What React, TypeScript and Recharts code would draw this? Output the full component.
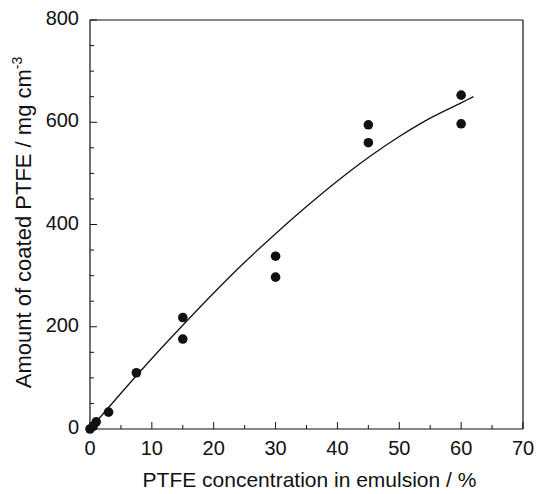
import React from 'react';
import { ComposedChart, Line, Scatter, XAxis, YAxis, Label } from 'recharts';

// measured points
const pointX = [0, 0.5, 1, 3, 7.5, 15, 15, 30, 30, 45, 45, 60, 60];
const pointY = [0, 5, 14, 33, 110, 218, 176, 338, 297, 595, 560, 653, 597];

// fitted curve
const curveX = [0, 5, 10, 15, 20, 25, 30, 35, 40, 45, 50, 55, 60, 62];
const curveY = [0, 70, 138, 203, 266, 326, 382, 435, 485, 531, 572, 608, 638, 650];

const xTicks = [0, 5, 10, 15, 20, 25, 30, 35, 40, 45, 50, 55, 60, 65, 70];
const yTicks = [0, 50, 100, 150, 200, 250, 300, 350, 400, 450, 500, 550, 600, 650, 700, 750, 800];

const points = pointX.map((x, i) => ({ x, y: pointY[i] }));
const curve = curveX.map((x, i) => ({ x, y: curveY[i] }));

const FONT = '"Liberation Sans", Arial, Helvetica, sans-serif';
const INK = '#111';

const BottomTick = (props: any) => {
  const { x, y, payload } = props;
  const major = payload.value % 10 === 0;
  return (
    <g>
      <line x1={x} y1={y} x2={x} y2={y - (major ? 7 : 4)} stroke={INK} strokeWidth={1} />
      {major && (
        <text x={x} y={y + 26} textAnchor="middle" fontSize={20} fontFamily={FONT} fill={INK}>
          {payload.value}
        </text>
      )}
    </g>
  );
};

const TopTick = (props: any) => {
  const { x, y, payload } = props;
  const major = payload.value % 10 === 0;
  return <line x1={x} y1={y} x2={x} y2={y + (major ? 7 : 4)} stroke={INK} strokeWidth={1} />;
};

const LeftTick = (props: any) => {
  const { x, y, payload } = props;
  const major = payload.value % 200 === 0;
  return (
    <g>
      <line x1={x} y1={y} x2={x + (major ? 7 : 4)} y2={y} stroke={INK} strokeWidth={1} />
      {major && (
        <text x={x - 11} y={y + 5} textAnchor="end" fontSize={20} fontFamily={FONT} fill={INK}>
          {payload.value}
        </text>
      )}
    </g>
  );
};

const RightTick = (props: any) => {
  const { x, y, payload } = props;
  const major = payload.value % 200 === 0;
  return <line x1={x} y1={y} x2={x - (major ? 7 : 4)} y2={y} stroke={INK} strokeWidth={1} />;
};

const Dot = (props: any) => <circle cx={props.cx} cy={props.cy} r={4.8} fill={INK} />;

const App: React.FC = () => {
  return (
    <div style={{ position: 'absolute', left: 0, top: 0, width: 536, height: 494, background: '#fff' }}>
      <ComposedChart width={536} height={494} margin={{ top: 19, right: 12, bottom: 0, left: 0 }}>
        <XAxis
          xAxisId={0}
          dataKey="x"
          type="number"
          domain={[0, 70]}
          ticks={xTicks}
          interval={0}
          height={65}
          tickSize={0}
          tickMargin={0}
          tickLine={false}
          axisLine={{ stroke: INK, strokeWidth: 1.2 }}
          tick={<BottomTick />}
        >
          <Label
            content={(p: any) => {
              const vb = p.viewBox;
              return (
                <text x={vb.x + vb.width / 2 + 3} y={vb.y + 58} textAnchor="middle" fontSize={21} fontFamily={FONT} fill={INK}>
                  PTFE concentration in emulsion / %
                </text>
              );
            }}
          />
        </XAxis>
        <XAxis
          xAxisId="top"
          orientation="top"
          dataKey="x"
          type="number"
          domain={[0, 70]}
          ticks={xTicks}
          interval={0}
          height={1}
          tickSize={0}
          tickMargin={0}
          tickLine={false}
          axisLine={{ stroke: INK, strokeWidth: 1.2 }}
          tick={<TopTick />}
        />
        <YAxis
          yAxisId={0}
          type="number"
          domain={[0, 800]}
          ticks={yTicks}
          interval={0}
          width={90}
          tickSize={0}
          tickMargin={0}
          tickLine={false}
          axisLine={{ stroke: INK, strokeWidth: 1.2 }}
          tick={<LeftTick />}
        >
          <Label
            content={(p: any) => {
              const vb = p.viewBox;
              const cx = 31;
              const cy = vb.y + vb.height / 2 - 2;
              return (
                <text
                  x={cx}
                  y={cy}
                  transform={`rotate(-90 ${cx} ${cy})`}
                  textAnchor="middle"
                  fontSize={22}
                  fontFamily={FONT}
                  fill={INK}
                >
                  Amount of coated PTFE / mg cm
                  <tspan fontSize={14} dy={-9}>-3</tspan>
                </text>
              );
            }}
          />
        </YAxis>
        <YAxis
          yAxisId="right"
          orientation="right"
          type="number"
          domain={[0, 800]}
          ticks={yTicks}
          interval={0}
          width={1}
          tickSize={0}
          tickMargin={0}
          tickLine={false}
          axisLine={{ stroke: INK, strokeWidth: 1.2 }}
          tick={<RightTick />}
        />
        <Line
          data={curve}
          dataKey="y"
          type="monotone"
          stroke={INK}
          strokeWidth={1.3}
          dot={false}
          activeDot={false}
          isAnimationActive={false}
        />
        <Scatter data={points} dataKey="y" shape={<Dot />} isAnimationActive={false} />
      </ComposedChart>
    </div>
  );
};

export default App;
